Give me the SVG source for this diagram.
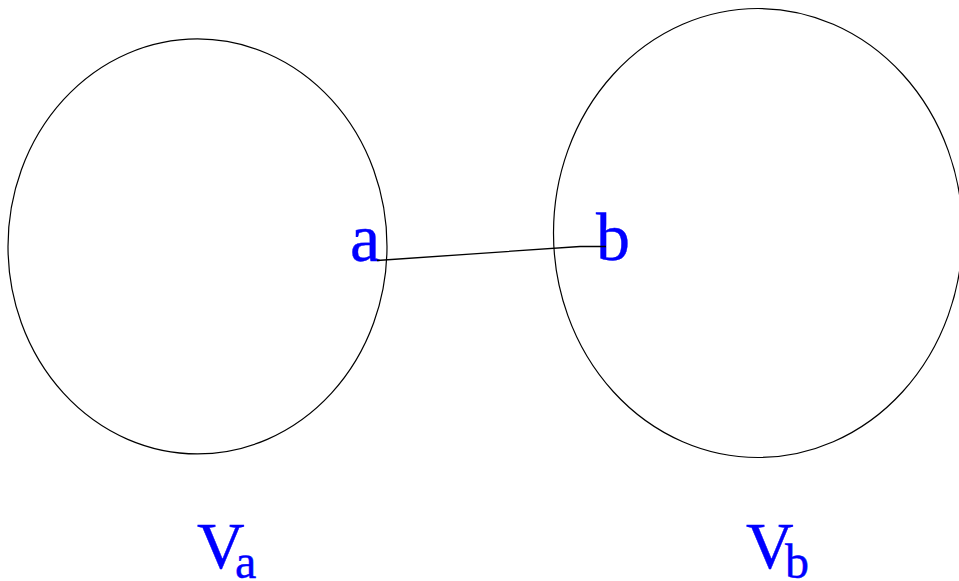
<svg xmlns="http://www.w3.org/2000/svg" width="959" height="581" viewBox="0 0 959 581">
<style>
.set{fill:none;stroke:#000;stroke-width:1.2}
.lbl{fill:#0000ff;stroke:#0000ff;stroke-width:0.4;font-family:"Liberation Serif","Times New Roman",serif}
.edge{fill:none;stroke:#000;stroke-width:1.3}
</style>
<rect width="959" height="581" fill="#fff"/>
<g id="node-Va">
<ellipse class="set" cx="197.5" cy="246.4" rx="189.5" ry="207.5"/>
<text class="lbl" font-size="66" x="197" y="568">V</text>
<text class="lbl" font-size="48" x="235" y="578">a</text>
</g>
<g id="node-Vb">
<ellipse class="set" cx="758" cy="233" rx="204.5" ry="224.5"/>
<text class="lbl" font-size="66" x="746" y="568">V</text>
<text class="lbl" font-size="48" x="785" y="578">b</text>
</g>
<g id="node-a">
<text class="lbl" font-size="68" x="350" y="261">a</text>
</g>
<g id="node-b">
<text class="lbl" font-size="68" x="596" y="260">b</text>
</g>
<g id="connectors">
<polyline class="edge" points="377,260.5 580,246.5 606,246.5"/>
</g>
</svg>
